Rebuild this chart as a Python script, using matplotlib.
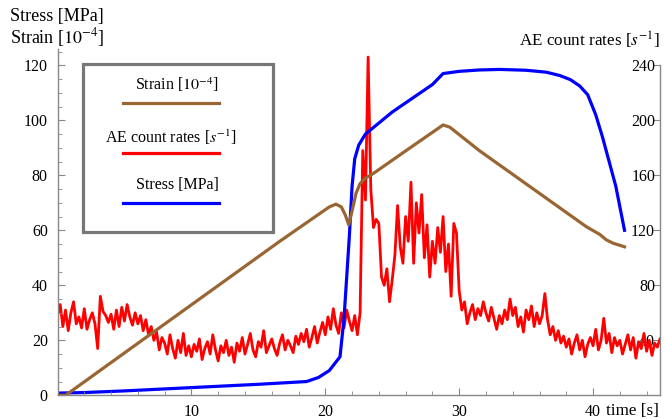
import numpy as np
import matplotlib.pyplot as plt
from matplotlib.patches import Rectangle
from matplotlib.lines import Line2D

plt.rcParams['font.family'] = ['Liberation Serif', 'DejaVu Serif']
plt.rcParams['mathtext.fontset'] = 'stix'

# stress [MPa] vs time [s]
stress_t = [0, 2, 5, 10, 15, 18.6, 19.5, 20.3, 20.7, 21.1, 21.4, 21.6, 21.8, 22.0,
            22.2, 22.5, 23.0, 24.0, 25.0, 26.5, 28.0, 28.8, 30.0, 31.5, 33.0, 35.0,
            36.5, 37.5, 38.3, 39.0, 39.6, 40.2, 40.7, 41.2, 41.7, 42.35]
stress = [0.8, 1.0, 1.6, 2.8, 4.0, 5.0, 6.5, 9.0, 11.5, 14, 28, 43, 58, 76,
          86, 91, 95, 99, 103, 108, 113, 117, 117.8, 118.3, 118.5, 118.2,
          117.5, 116.3, 114.8, 112.5, 109.3, 102, 94, 85, 76, 60]

# strain [1e-4] vs time [s]
strain_t = [0, 0.6, 16.6, 20.3, 20.8, 21.2, 21.5, 21.75, 22.0, 22.3, 22.6, 23.0,
            23.6, 26.1, 28.8, 29.3, 31.5, 39.5, 40.5, 41.0, 41.5, 42.35]
strain = [0, 0, 56, 68.5, 69.5, 68.5, 65.5, 62, 67, 73.5, 77, 79,
          80.7, 89.2, 98.3, 97.5, 89, 61.3, 58.5, 56.5, 55.3, 54]

# AE count rates [1/s], sampled every 0.2 s from 0 to 45 s
ae_rate = [
    58, 66, 50, 62, 47, 60, 68, 52, 57, 49,
    63, 48, 55, 60, 52, 34, 72, 61, 58, 53,
    59, 48, 62, 50, 64, 54, 66, 57, 51, 60,
    52, 58, 47, 55, 44, 50, 40, 46, 33, 42,
    38, 30, 44, 34, 27, 40, 31, 45, 29, 36,
    28, 37, 32, 41, 26, 34, 39, 30, 44, 33,
    25, 36, 31, 40, 29, 35, 24, 38, 32, 42,
    30, 37, 45, 33, 28, 39, 35, 47, 31, 36,
    41, 34, 29, 38, 44, 33, 40, 36, 31, 43,
    37, 45, 39, 48, 35, 42, 50, 38, 46, 53,
    44, 57, 48, 63, 51, 45, 60, 49, 62, 54,
    47, 58, 44, 60, 178, 142, 246, 150, 122, 128,
    125, 86, 80, 92, 68, 84, 102, 138, 108, 96,
    130, 112, 155, 96, 140, 118, 146, 100, 124, 86,
    112, 96, 122, 104, 130, 90, 110, 72, 125, 118,
    76, 62, 68, 52, 60, 66, 55, 63, 58, 68,
    60, 54, 64, 56, 48, 58, 52, 62, 55, 70,
    58, 64, 50, 57, 46, 62, 55, 65, 50, 60,
    52, 58, 74, 55, 44, 50, 40, 47, 38, 43,
    35, 41, 30, 38, 44, 33, 40, 28, 37, 42,
    36, 48, 33, 40, 56, 38, 45, 31, 42, 36,
    40, 30, 37, 44, 33, 42, 27, 39, 34, 45,
    32, 40, 29, 38, 35, 41,
]
ae_t = np.linspace(0, 45, len(ae_rate))

left_ticks = [0, 20, 40, 60, 80, 100, 120]
right_ticks = [40, 80, 120, 160, 200, 240]
x_ticks = [10, 20, 30, 40]

brown = '#996633'
grey = '#888888'
W, H = 665, 419

fig = plt.figure(figsize=(W / 100, H / 100), dpi=100)
ax = fig.add_axes([57.5 / W, 23.7 / H, 602.5 / W, 346.5 / H])
ax2 = ax.twinx()

ax.plot(stress_t, stress, color='#0000ff', lw=2.3, zorder=1)
ax2.plot(ae_t, ae_rate, color='#ff0000', lw=2.0, zorder=2)
ax.set_zorder(ax2.get_zorder() + 1)
ax.patch.set_visible(False)
ax.plot(strain_t, strain, color=brown, lw=2.3, zorder=3)

ax.set_xlim(0, 45)
ax.set_ylim(0, 126)
ax2.set_ylim(0, 252)

for s in ['top', 'right']:
    ax.spines[s].set_visible(False)
for s in ['top', 'left', 'bottom']:
    ax2.spines[s].set_visible(False)
for sp in [ax.spines['left'], ax.spines['bottom'], ax2.spines['right']]:
    sp.set_color(grey)
    sp.set_linewidth(1.0)
ax2.spines['right'].set_bounds(0, 240)

ax.set_xticks(x_ticks)
ax.set_xticks(np.arange(2, 45, 2), minor=True)
ax.set_yticks(left_ticks)
ax.set_yticks(np.arange(5, 126, 5), minor=True)
ax.tick_params(which='both', direction='in', color=grey, labelsize=11.5)
ax.tick_params(which='major', length=5, width=0.8)
ax.tick_params(which='minor', length=3, width=0.6)
ax.tick_params(axis='x', pad=6)
ax.tick_params(axis='y', pad=7)

ax2.set_yticks(right_ticks)
ax2.tick_params(axis='y', direction='in', color=grey, length=5, width=0.8,
                labelsize=11.5, pad=-3.5)
for tk in ax2.yaxis.get_major_ticks():
    tk.label2.set_horizontalalignment('right')

fig.text(10 / W, 1 - 17 / H, 'Stress [MPa]', fontsize=13, ha='left', va='center')
fig.text(10 / W, 1 - 38 / H, r'Strain [$10^{-4}$]', fontsize=13, ha='left', va='center')
fig.text(660 / W, 1 - 40 / H, r'AE count rates [$s^{-1}$]', fontsize=12.3,
         ha='right', va='center')
fig.text(659 / W, 1 - 411 / H, 'time [s]', fontsize=12.3, ha='right', va='center')

# legend box, text above line as in the original
fig.patches.append(Rectangle((82.7 / W, 1 - 231.7 / H), 190 / W, 167.7 / H,
                             transform=fig.transFigure, facecolor='white',
                             edgecolor='#777777', lw=2.3, zorder=5))
leg_labels = [r'Strain [$10^{-4}$]', r'AE count rates [$s^{-1}$]', 'Stress [MPa]']
leg_colors = [brown, '#ff0000', '#0000ff']
leg_text_y = [85, 137.3, 185]
leg_line_y = [103.3, 153.3, 202.7]
leg_text_x = [177, 171, 177]
for lab, c, ty, ly, tx in zip(leg_labels, leg_colors, leg_text_y, leg_line_y, leg_text_x):
    fig.text(tx / W, 1 - ty / H, lab, fontsize=11.5, ha='center', va='center', zorder=6)
    fig.lines.append(Line2D([122.7 / W, 219.3 / W], [1 - ly / H, 1 - ly / H],
                            transform=fig.transFigure, color=c, lw=2.3, zorder=6))

fig.savefig('out.png', dpi=100)
